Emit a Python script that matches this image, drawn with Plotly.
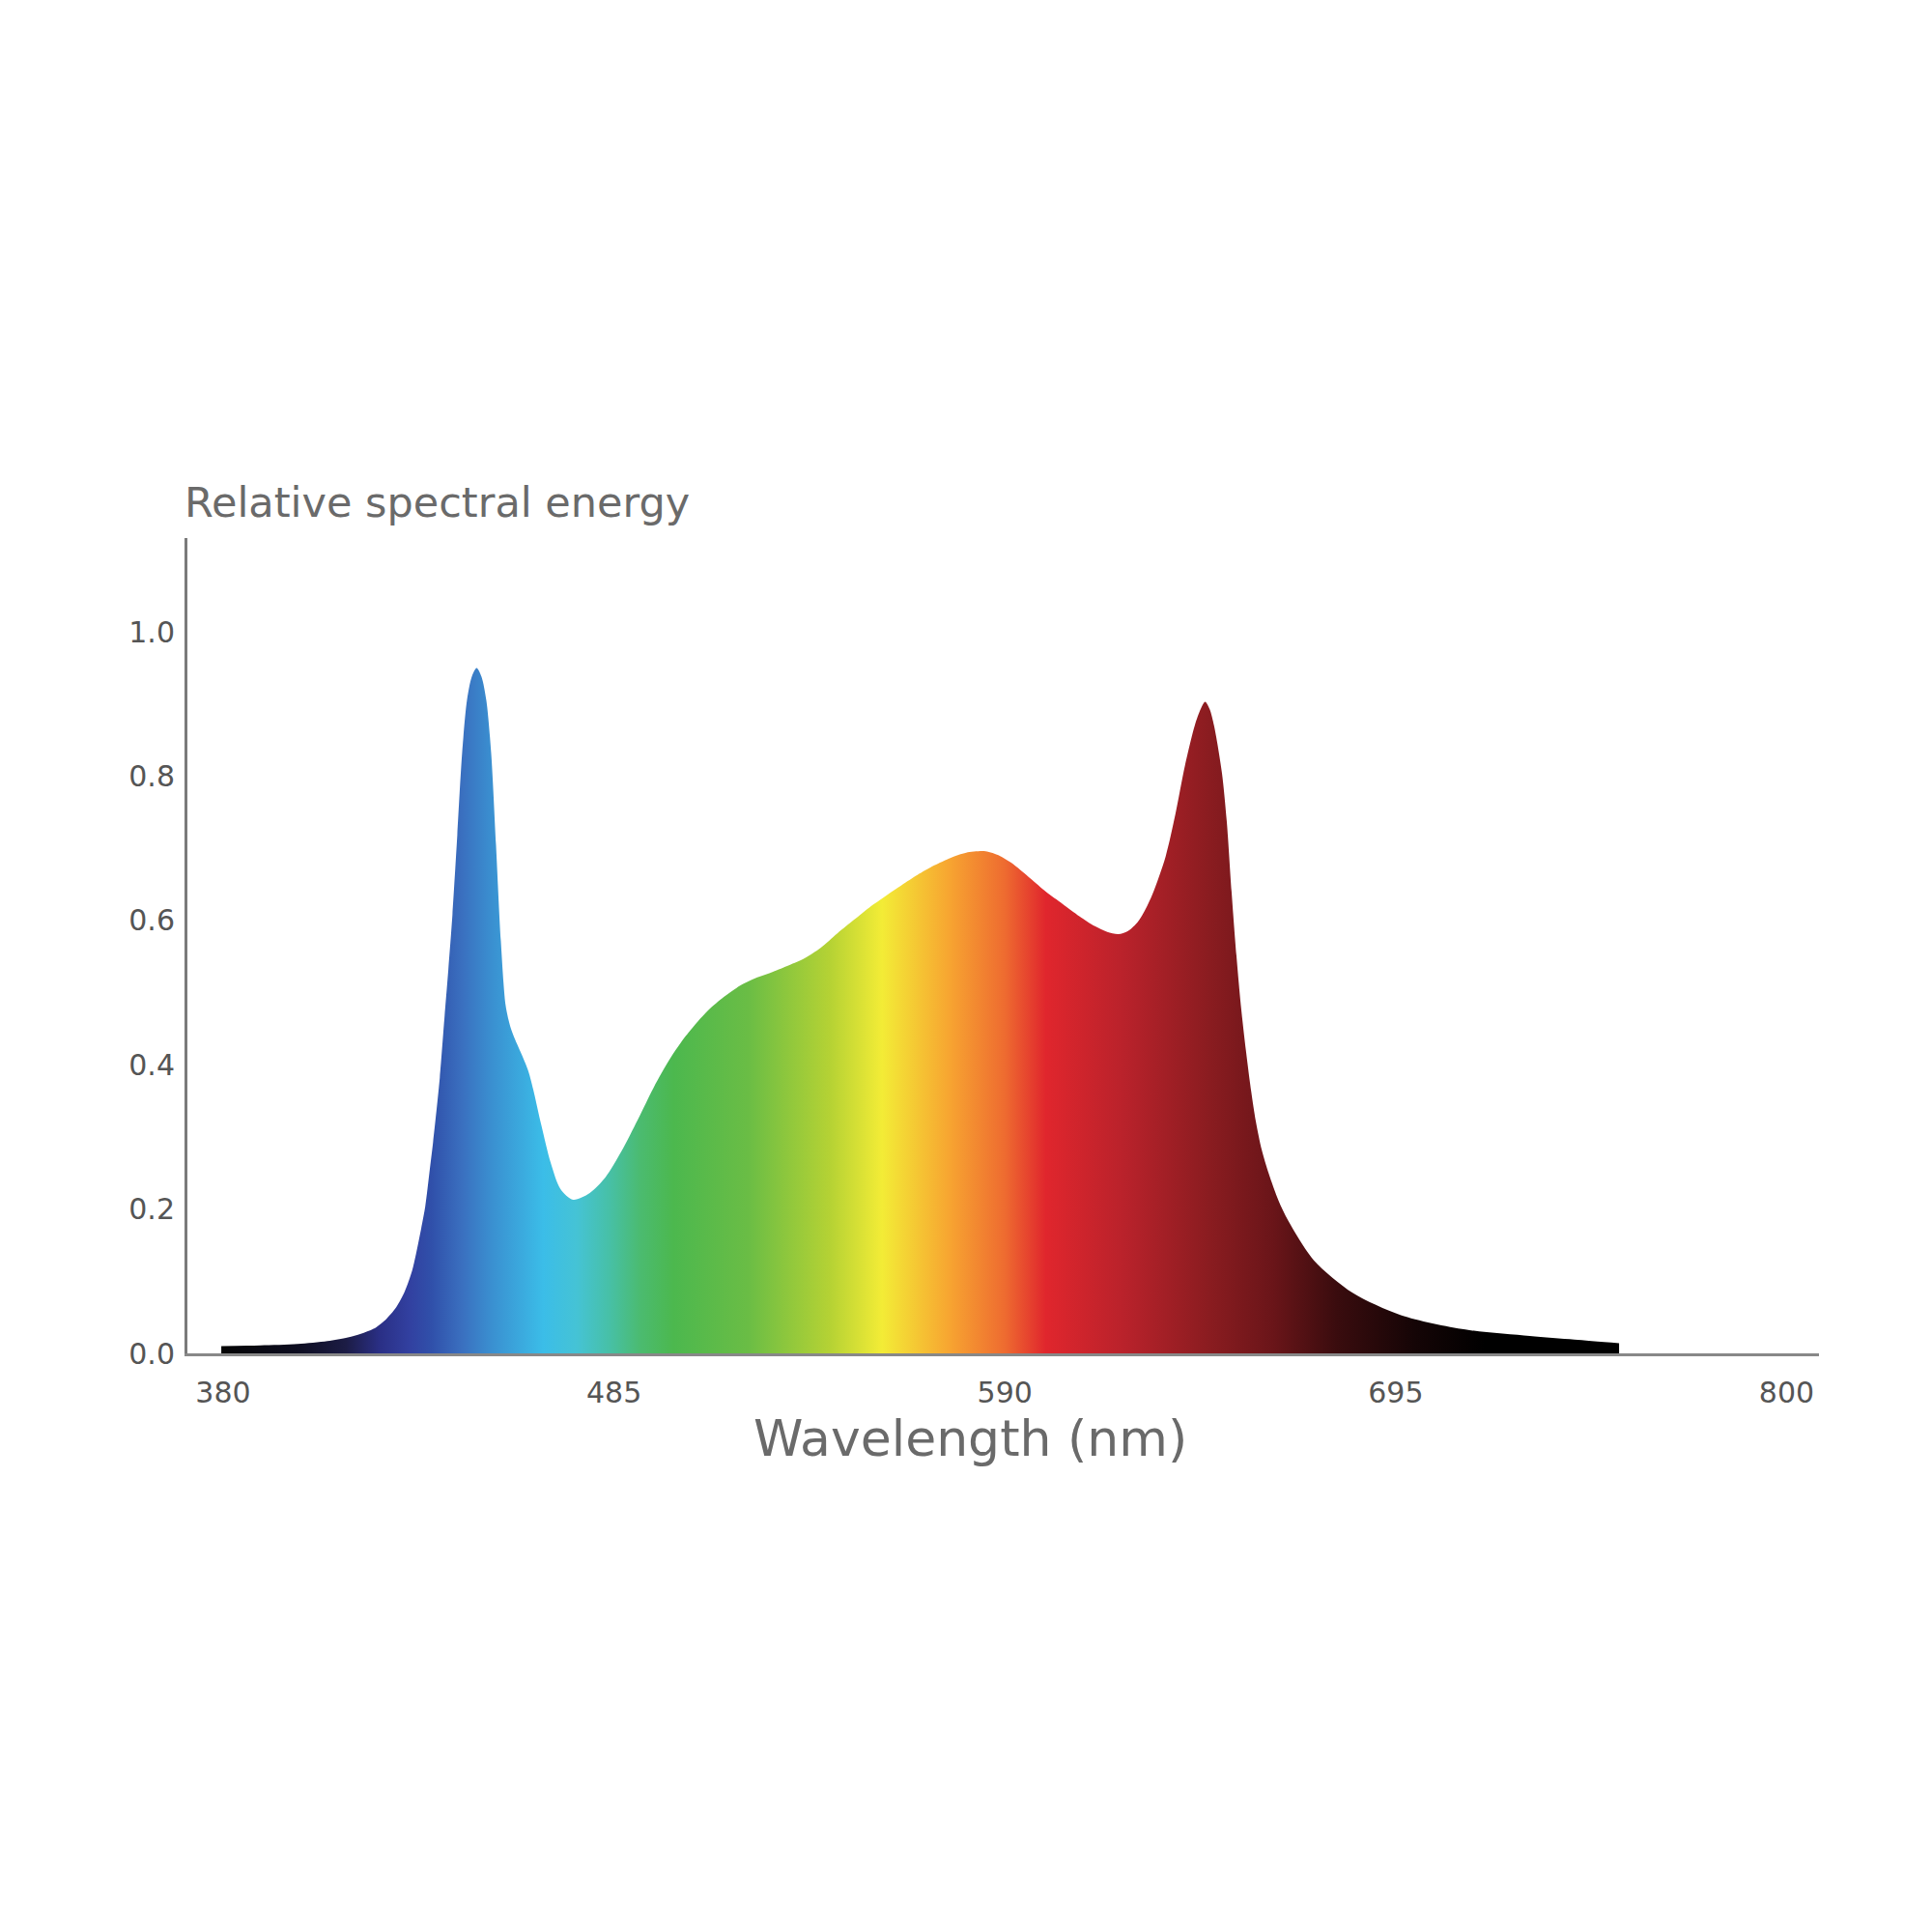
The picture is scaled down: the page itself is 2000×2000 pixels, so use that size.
import plotly.graph_objects as go

# Spectrum (nm, relative energy)
wavelength = [379.5, 390, 400, 408, 413.5, 417, 420.4, 423.5, 426.5, 428.8, 430.8, 432.7,
              434.3, 435.4, 436.4, 438.2, 439.5, 440.5, 441.6, 442.9, 444.2, 445.5, 446.8,
              448.1, 449.4, 450.7, 452.0, 453.3, 454.6, 455.9, 457.2, 458.5, 460.3, 462.0,
              463.3, 465.4, 468.0, 470.6, 474.0, 478.4, 482.7, 487.0, 491.4, 495.7, 500.0,
              504.3, 507.5, 510.4, 514.5, 519.0, 523.5, 527.7, 532.0, 536.3, 540.5, 545.0,
              549.5, 553.6, 558.0, 562.3, 566.5, 570.9, 575.5, 579.6, 584.8, 588.5, 591.7,
              596.9, 601.0, 605.5, 610.0, 614.2, 617.5, 620.5, 623.0, 625.4, 627.5, 629.7,
              633.2, 635.8, 638.4, 641.0, 642.6, 643.8, 645.0, 646.2, 648.3, 649.6, 650.9,
              652.2, 653.4, 654.8, 656.2, 657.4, 659.0, 660.9, 663.5, 666.1, 673.0, 683.4,
              696.4, 713.7, 731.0, 743.0, 755.0]
energy = [0.010, 0.011, 0.013, 0.017, 0.022, 0.027, 0.034, 0.046, 0.064, 0.086, 0.115, 0.16,
          0.204, 0.25, 0.293, 0.382, 0.468, 0.532, 0.608, 0.718, 0.832, 0.905, 0.938,
          0.950, 0.938, 0.905, 0.832, 0.705, 0.572, 0.482, 0.452, 0.434, 0.413, 0.391,
          0.366, 0.318, 0.264, 0.228, 0.213, 0.222, 0.244, 0.28, 0.324, 0.369, 0.408,
          0.440, 0.460, 0.476, 0.494, 0.510, 0.521, 0.529, 0.538, 0.548, 0.562, 0.582,
          0.601, 0.618, 0.634, 0.649, 0.663, 0.676, 0.687, 0.694, 0.696, 0.690, 0.68,
          0.658, 0.64, 0.623, 0.606, 0.592, 0.584, 0.581, 0.585, 0.596, 0.613, 0.637,
          0.689, 0.747, 0.815, 0.870, 0.893, 0.903, 0.893, 0.870, 0.805, 0.738, 0.640,
          0.552, 0.482, 0.418, 0.362, 0.322, 0.282, 0.249, 0.212, 0.184, 0.129, 0.084,
          0.053, 0.033, 0.024, 0.019, 0.014]

x_ticks = [380, 485, 590, 695, 800]
y_ticks = [0.0, 0.2, 0.4, 0.6, 0.8, 1.0]

# rainbow fill, stops in nm
grad_nm = [379.5, 400, 413, 422, 430, 436, 444, 452, 466, 475, 484, 492, 501, 521,
           543, 557, 575, 590, 601, 622, 645, 662, 679, 700, 719, 755]
grad_colors = ["#050505", "#0d0d20", "#1c1c45", "#2a2f85", "#3240a0", "#3050aa",
               "#3a6fbf", "#3a8fd0", "#3bbde8", "#45c3d5", "#47c0a5", "#4bbb70",
               "#4cb84e", "#6abd45", "#b5d234", "#f3ec36", "#f7a531", "#ee6b30",
               "#e0262d", "#b9222b", "#8a1c20", "#6a1519", "#3a0c0e", "#150506",
               "#000000", "#000000"]
g0, g1 = grad_nm[0], grad_nm[-1]
colorscale = [[(n - g0) / (g1 - g0), c] for n, c in zip(grad_nm, grad_colors)]

FONT = "DejaVu Sans"

fig = go.Figure(
    go.Scatter(
        x=wavelength,
        y=energy,
        mode="lines",
        line=dict(width=0, shape="spline", smoothing=0.8),
        fill="tozeroy",
        fillgradient=dict(type="horizontal", colorscale=colorscale, start=g0, stop=g1),
        hoverinfo="skip",
        showlegend=False,
    )
)

fig.update_layout(
    width=2000,
    height=2000,
    paper_bgcolor="white",
    plot_bgcolor="white",
    margin=dict(l=186, r=125, t=549, b=607),
    font=dict(family=FONT, color="#555555", size=30),
    annotations=[
        dict(text="Relative spectral energy", xref="paper", yref="paper",
             x=-0.003, y=1.044, xanchor="left", yanchor="middle", showarrow=False,
             font=dict(size=43, color="#6a6a6a", family=FONT)),
        dict(text="Wavelength (nm)", xref="paper", yref="paper",
             x=0.48, y=-0.104, xanchor="center", yanchor="middle", showarrow=False,
             font=dict(size=52, color="#6a6a6a", family=FONT)),
    ],
)

fig.update_xaxes(
    range=[370.4, 808.7],
    tickvals=x_ticks,
    ticks="",
    showgrid=False,
    zeroline=False,
    showline=True,
    linecolor="#888888",
    linewidth=3,
    ticklabelstandoff=12,
)

fig.update_yaxes(
    range=[0, 1.13],
    tickvals=y_ticks,
    tickformat=".1f",
    ticks="",
    showgrid=False,
    zeroline=False,
    showline=True,
    linecolor="#7a7a7a",
    linewidth=3,
    ticklabelstandoff=4,
)

fig.write_html("out.html")
